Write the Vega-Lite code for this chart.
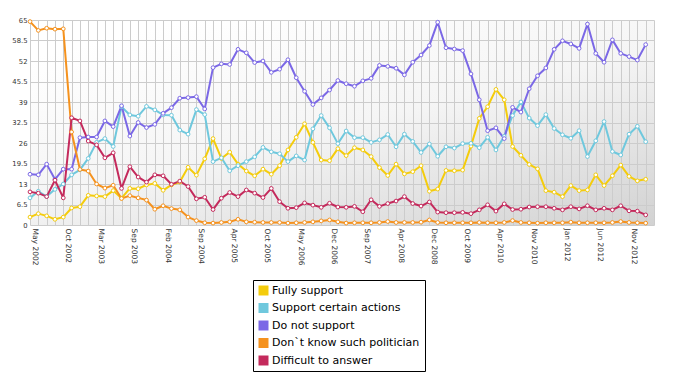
{
"$schema":"https://vega.github.io/schema/vega-lite/v6.json",
"width":624,"height":205,
"autosize":{"type":"none"},
"padding":{"left":30,"top":20,"right":26,"bottom":158},
"background":"white",
"view":{"stroke":null,"fill":{"gradient":"linear","x1":0.25,"y1":0,"x2":1,"y2":1,"stops":[{"offset":0,"color":"#ffffff"},{"offset":0.45,"color":"#f5f5f5"},{"offset":1,"color":"#d2d2d2"}]}},
"data":{"values":[
{"i":0,"s":"a","v":2.5},{"i":1,"s":"a","v":3.6},{"i":2,"s":"a","v":2.9},{"i":3,"s":"a","v":1.8},{"i":4,"s":"a","v":2.5},{"i":5,"s":"a","v":5.4},{"i":6,"s":"a","v":5.8},{"i":7,"s":"a","v":9.4},{"i":8,"s":"a","v":9.2},{"i":9,"s":"a","v":9.0},
{"i":10,"s":"a","v":10.9},{"i":11,"s":"a","v":8.5},{"i":12,"s":"a","v":11.6},{"i":13,"s":"a","v":11.5},{"i":14,"s":"a","v":12.7},{"i":15,"s":"a","v":13.2},{"i":16,"s":"a","v":11.0},{"i":17,"s":"a","v":12.7},{"i":18,"s":"a","v":13.6},{"i":19,"s":"a","v":18.3},
{"i":20,"s":"a","v":15.8},{"i":21,"s":"a","v":21.0},{"i":22,"s":"a","v":27.4},{"i":23,"s":"a","v":21.1},{"i":24,"s":"a","v":23.1},{"i":25,"s":"a","v":19.3},{"i":26,"s":"a","v":17.1},{"i":27,"s":"a","v":15.6},{"i":28,"s":"a","v":17.7},{"i":29,"s":"a","v":16.1},
{"i":30,"s":"a","v":18.8},{"i":31,"s":"a","v":23.8},{"i":32,"s":"a","v":27.8},{"i":33,"s":"a","v":32.1},{"i":34,"s":"a","v":26.2},{"i":35,"s":"a","v":20.6},{"i":36,"s":"a","v":20.4},{"i":37,"s":"a","v":24.2},{"i":38,"s":"a","v":22.0},{"i":39,"s":"a","v":24.5},
{"i":40,"s":"a","v":23.8},{"i":41,"s":"a","v":21.7},{"i":42,"s":"a","v":18.2},{"i":43,"s":"a","v":15.7},{"i":44,"s":"a","v":19.3},{"i":45,"s":"a","v":16.2},{"i":46,"s":"a","v":16.9},{"i":47,"s":"a","v":18.8},{"i":48,"s":"a","v":10.7},{"i":49,"s":"a","v":11.4},
{"i":50,"s":"a","v":17.3},{"i":51,"s":"a","v":17.2},{"i":52,"s":"a","v":17.4},{"i":53,"s":"a","v":25.0},{"i":54,"s":"a","v":33.8},{"i":55,"s":"a","v":37.5},{"i":56,"s":"a","v":43.0},{"i":57,"s":"a","v":39.7},{"i":58,"s":"a","v":24.9},{"i":59,"s":"a","v":22.1},
{"i":60,"s":"a","v":19.2},{"i":61,"s":"a","v":17.8},{"i":62,"s":"a","v":10.9},{"i":63,"s":"a","v":10.4},{"i":64,"s":"a","v":9.0},{"i":65,"s":"a","v":12.5},{"i":66,"s":"a","v":10.9},{"i":67,"s":"a","v":11.1},{"i":68,"s":"a","v":15.9},{"i":69,"s":"a","v":12.5},
{"i":70,"s":"a","v":15.6},{"i":71,"s":"a","v":19.0},{"i":72,"s":"a","v":15.4},{"i":73,"s":"a","v":14.0},{"i":74,"s":"a","v":14.5},
{"i":0,"s":"b","v":8.6},{"i":1,"s":"b","v":10.7},{"i":2,"s":"b","v":9.0},{"i":3,"s":"b","v":11.3},{"i":4,"s":"b","v":13.0},{"i":5,"s":"b","v":15.9},{"i":6,"s":"b","v":17.5},{"i":7,"s":"b","v":21.1},{"i":8,"s":"b","v":26.2},{"i":9,"s":"b","v":27.4},
{"i":10,"s":"b","v":24.9},{"i":11,"s":"b","v":37.5},{"i":12,"s":"b","v":34.9},{"i":13,"s":"b","v":34.5},{"i":14,"s":"b","v":37.6},{"i":15,"s":"b","v":36.5},{"i":16,"s":"b","v":34.9},{"i":17,"s":"b","v":34.8},{"i":18,"s":"b","v":30.1},{"i":19,"s":"b","v":28.8},
{"i":20,"s":"b","v":36.6},{"i":21,"s":"b","v":35.0},{"i":22,"s":"b","v":20.1},{"i":23,"s":"b","v":21.3},{"i":24,"s":"b","v":17.2},{"i":25,"s":"b","v":18.8},{"i":26,"s":"b","v":20.1},{"i":27,"s":"b","v":21.6},{"i":28,"s":"b","v":24.6},{"i":29,"s":"b","v":23.2},
{"i":30,"s":"b","v":22.6},{"i":31,"s":"b","v":20.1},{"i":32,"s":"b","v":21.9},{"i":33,"s":"b","v":20.6},{"i":34,"s":"b","v":30.5},{"i":35,"s":"b","v":34.7},{"i":36,"s":"b","v":30.8},{"i":37,"s":"b","v":25.8},{"i":38,"s":"b","v":29.8},{"i":39,"s":"b","v":27.7},
{"i":40,"s":"b","v":27.7},{"i":41,"s":"b","v":26.2},{"i":42,"s":"b","v":27.0},{"i":43,"s":"b","v":28.7},{"i":44,"s":"b","v":24.8},{"i":45,"s":"b","v":28.8},{"i":46,"s":"b","v":26.5},{"i":47,"s":"b","v":23.0},{"i":48,"s":"b","v":25.7},{"i":49,"s":"b","v":21.8},
{"i":50,"s":"b","v":24.8},{"i":51,"s":"b","v":24.4},{"i":52,"s":"b","v":25.8},{"i":53,"s":"b","v":25.9},{"i":54,"s":"b","v":24.5},{"i":55,"s":"b","v":27.8},{"i":56,"s":"b","v":23.8},{"i":57,"s":"b","v":28.1},{"i":58,"s":"b","v":34.7},{"i":59,"s":"b","v":39.0},
{"i":60,"s":"b","v":33.9},{"i":61,"s":"b","v":31.5},{"i":62,"s":"b","v":35.0},{"i":63,"s":"b","v":30.6},{"i":64,"s":"b","v":28.6},{"i":65,"s":"b","v":27.5},{"i":66,"s":"b","v":29.9},{"i":67,"s":"b","v":21.7},{"i":68,"s":"b","v":26.7},{"i":69,"s":"b","v":32.8},
{"i":70,"s":"b","v":23.3},{"i":71,"s":"b","v":22.2},{"i":72,"s":"b","v":28.8},{"i":73,"s":"b","v":31.3},{"i":74,"s":"b","v":26.4},
{"i":0,"s":"c","v":16.1},{"i":1,"s":"c","v":15.9},{"i":2,"s":"c","v":19.3},{"i":3,"s":"c","v":14.5},{"i":4,"s":"c","v":17.7},{"i":5,"s":"c","v":17.7},{"i":6,"s":"c","v":27.7},{"i":7,"s":"c","v":27.9},{"i":8,"s":"c","v":27.9},{"i":9,"s":"c","v":33.0},
{"i":10,"s":"c","v":31.2},{"i":11,"s":"c","v":37.8},{"i":12,"s":"c","v":28.2},{"i":13,"s":"c","v":32.5},{"i":14,"s":"c","v":30.9},{"i":15,"s":"c","v":31.9},{"i":16,"s":"c","v":35.4},{"i":17,"s":"c","v":37.2},{"i":18,"s":"c","v":40.2},{"i":19,"s":"c","v":40.4},
{"i":20,"s":"c","v":40.7},{"i":21,"s":"c","v":36.8},{"i":22,"s":"c","v":49.9},{"i":23,"s":"c","v":51.1},{"i":24,"s":"c","v":50.9},{"i":25,"s":"c","v":55.7},{"i":26,"s":"c","v":54.6},{"i":27,"s":"c","v":51.5},{"i":28,"s":"c","v":52.0},{"i":29,"s":"c","v":48.4},
{"i":30,"s":"c","v":49.4},{"i":31,"s":"c","v":52.4},{"i":32,"s":"c","v":46.7},{"i":33,"s":"c","v":42.4},{"i":34,"s":"c","v":38.2},{"i":35,"s":"c","v":40.3},{"i":36,"s":"c","v":42.8},{"i":37,"s":"c","v":45.8},{"i":38,"s":"c","v":44.8},{"i":39,"s":"c","v":44.0},
{"i":40,"s":"c","v":45.7},{"i":41,"s":"c","v":46.5},{"i":42,"s":"c","v":50.6},{"i":43,"s":"c","v":50.3},{"i":44,"s":"c","v":49.7},{"i":45,"s":"c","v":47.6},{"i":46,"s":"c","v":51.6},{"i":47,"s":"c","v":53.9},{"i":48,"s":"c","v":56.9},{"i":49,"s":"c","v":64.3},
{"i":50,"s":"c","v":56.2},{"i":51,"s":"c","v":55.8},{"i":52,"s":"c","v":55.3},{"i":53,"s":"c","v":47.9},{"i":54,"s":"c","v":39.7},{"i":55,"s":"c","v":29.9},{"i":56,"s":"c","v":30.8},{"i":57,"s":"c","v":27.4},{"i":58,"s":"c","v":37.3},{"i":59,"s":"c","v":35.8},
{"i":60,"s":"c","v":43.2},{"i":61,"s":"c","v":47.3},{"i":62,"s":"c","v":49.8},{"i":63,"s":"c","v":55.7},{"i":64,"s":"c","v":58.4},{"i":65,"s":"c","v":57.4},{"i":66,"s":"c","v":56.0},{"i":67,"s":"c","v":63.7},{"i":68,"s":"c","v":54.4},{"i":69,"s":"c","v":51.6},
{"i":70,"s":"c","v":58.7},{"i":71,"s":"c","v":54.4},{"i":72,"s":"c","v":53.4},{"i":73,"s":"c","v":52.3},{"i":74,"s":"c","v":57.2},
{"i":0,"s":"d","v":64.5},{"i":1,"s":"d","v":61.7},{"i":2,"s":"d","v":62.4},{"i":3,"s":"d","v":62.1},{"i":4,"s":"d","v":62.2},{"i":5,"s":"d","v":29.5},{"i":6,"s":"d","v":17.6},{"i":7,"s":"d","v":17.1},{"i":8,"s":"d","v":13.0},{"i":9,"s":"d","v":11.7},
{"i":10,"s":"d","v":12.6},{"i":11,"s":"d","v":8.4},{"i":12,"s":"d","v":9.3},{"i":13,"s":"d","v":8.6},{"i":14,"s":"d","v":7.9},{"i":15,"s":"d","v":5.0},{"i":16,"s":"d","v":6.1},{"i":17,"s":"d","v":5.2},{"i":18,"s":"d","v":4.8},{"i":19,"s":"d","v":2.5},
{"i":20,"s":"d","v":1.4},{"i":21,"s":"d","v":0.7},{"i":22,"s":"d","v":0.6},{"i":23,"s":"d","v":0.8},{"i":24,"s":"d","v":1.0},{"i":25,"s":"d","v":1.8},{"i":26,"s":"d","v":1.0},{"i":27,"s":"d","v":0.9},{"i":28,"s":"d","v":0.8},{"i":29,"s":"d","v":0.8},
{"i":30,"s":"d","v":0.8},{"i":31,"s":"d","v":0.6},{"i":32,"s":"d","v":0.7},{"i":33,"s":"d","v":0.8},{"i":34,"s":"d","v":1.0},{"i":35,"s":"d","v":1.3},{"i":36,"s":"d","v":1.6},{"i":37,"s":"d","v":1.0},{"i":38,"s":"d","v":0.6},{"i":39,"s":"d","v":0.7},
{"i":40,"s":"d","v":0.7},{"i":41,"s":"d","v":0.7},{"i":42,"s":"d","v":0.8},{"i":43,"s":"d","v":1.1},{"i":44,"s":"d","v":0.8},{"i":45,"s":"d","v":0.8},{"i":46,"s":"d","v":0.8},{"i":47,"s":"d","v":0.9},{"i":48,"s":"d","v":1.6},{"i":49,"s":"d","v":0.8},
{"i":50,"s":"d","v":0.7},{"i":51,"s":"d","v":0.7},{"i":52,"s":"d","v":0.7},{"i":53,"s":"d","v":0.7},{"i":54,"s":"d","v":0.8},{"i":55,"s":"d","v":0.7},{"i":56,"s":"d","v":0.7},{"i":57,"s":"d","v":0.8},{"i":58,"s":"d","v":1.4},{"i":59,"s":"d","v":0.8},
{"i":60,"s":"d","v":0.7},{"i":61,"s":"d","v":0.6},{"i":62,"s":"d","v":0.7},{"i":63,"s":"d","v":0.7},{"i":64,"s":"d","v":0.7},{"i":65,"s":"d","v":0.9},{"i":66,"s":"d","v":0.7},{"i":67,"s":"d","v":0.7},{"i":68,"s":"d","v":0.7},{"i":69,"s":"d","v":0.7},
{"i":70,"s":"d","v":0.8},{"i":71,"s":"d","v":1.1},{"i":72,"s":"d","v":0.8},{"i":73,"s":"d","v":0.7},{"i":74,"s":"d","v":0.6},
{"i":0,"s":"e","v":10.5},{"i":1,"s":"e","v":10.1},{"i":2,"s":"e","v":9.0},{"i":3,"s":"e","v":14.2},{"i":4,"s":"e","v":8.6},{"i":5,"s":"e","v":34.0},{"i":6,"s":"e","v":33.0},{"i":7,"s":"e","v":26.6},{"i":8,"s":"e","v":25.4},{"i":9,"s":"e","v":21.3},
{"i":10,"s":"e","v":22.9},{"i":11,"s":"e","v":11.6},{"i":12,"s":"e","v":18.5},{"i":13,"s":"e","v":15.2},{"i":14,"s":"e","v":13.6},{"i":15,"s":"e","v":15.9},{"i":16,"s":"e","v":15.6},{"i":17,"s":"e","v":12.9},{"i":18,"s":"e","v":13.9},{"i":19,"s":"e","v":12.2},
{"i":20,"s":"e","v":8.3},{"i":21,"s":"e","v":8.8},{"i":22,"s":"e","v":4.9},{"i":23,"s":"e","v":8.5},{"i":24,"s":"e","v":10.3},{"i":25,"s":"e","v":9.0},{"i":26,"s":"e","v":11.1},{"i":27,"s":"e","v":10.1},{"i":28,"s":"e","v":8.7},{"i":29,"s":"e","v":11.6},
{"i":30,"s":"e","v":7.4},{"i":31,"s":"e","v":5.3},{"i":32,"s":"e","v":5.5},{"i":33,"s":"e","v":7.0},{"i":34,"s":"e","v":6.3},{"i":35,"s":"e","v":5.6},{"i":36,"s":"e","v":6.9},{"i":37,"s":"e","v":5.7},{"i":38,"s":"e","v":5.6},{"i":39,"s":"e","v":5.9},
{"i":40,"s":"e","v":4.2},{"i":41,"s":"e","v":8.0},{"i":42,"s":"e","v":5.9},{"i":43,"s":"e","v":6.8},{"i":44,"s":"e","v":7.6},{"i":45,"s":"e","v":9.0},{"i":46,"s":"e","v":6.8},{"i":47,"s":"e","v":6.0},{"i":48,"s":"e","v":7.3},{"i":49,"s":"e","v":4.1},
{"i":50,"s":"e","v":3.9},{"i":51,"s":"e","v":3.9},{"i":52,"s":"e","v":4.0},{"i":53,"s":"e","v":3.6},{"i":54,"s":"e","v":4.8},{"i":55,"s":"e","v":6.4},{"i":56,"s":"e","v":4.4},{"i":57,"s":"e","v":6.7},{"i":58,"s":"e","v":4.9},{"i":59,"s":"e","v":5.0},
{"i":60,"s":"e","v":5.7},{"i":61,"s":"e","v":5.8},{"i":62,"s":"e","v":5.8},{"i":63,"s":"e","v":5.3},{"i":64,"s":"e","v":4.8},{"i":65,"s":"e","v":5.8},{"i":66,"s":"e","v":5.1},{"i":67,"s":"e","v":6.1},{"i":68,"s":"e","v":4.8},{"i":69,"s":"e","v":5.3},
{"i":70,"s":"e","v":4.8},{"i":71,"s":"e","v":6.1},{"i":72,"s":"e","v":4.5},{"i":73,"s":"e","v":4.4},{"i":74,"s":"e","v":3.2}
]},
"encoding":{
"x":{"field":"i","type":"quantitative","scale":{"domain":[0,75],"nice":false,"zero":false},
"axis":{"title":null,"values":[0,1,2,3,4,5,6,7,8,9,10,11,12,13,14,15,16,17,18,19,20,21,22,23,24,25,26,27,28,29,30,31,32,33,34,35,36,37,38,39,40,41,42,43,44,45,46,47,48,49,50,51,52,53,54,55,56,57,58,59,60,61,62,63,64,65,66,67,68,69,70,71,72,73,74,75],
"labelExpr":"(datum.value % 4 == 0 && datum.value <= 72) ? ['May 2002','Oct 2002','Mar 2003','Sep 2003','Feb 2004','Sep 2004','Apr 2005','Oct 2005','May 2006','Dec 2006','Sep 2007','Apr 2008','Dec 2008','Oct 2009','Apr 2010','Nov 2010','Jan 2012','Jun 2012','Nov 2012'][datum.value/4] : ''",
"labelAngle":90,"labelAlign":"left","labelBaseline":"middle","labelOffset":4,"labelPadding":3,"ticks":false,"domain":false,"grid":true,"gridColor":"#cccccc","gridWidth":1,
"labelFlush":false,"labelOverlap":false,"labelBound":false,"labelFont":"DejaVu Sans","labelFontSize":7.5,"labelColor":"#333333"}},
"y":{"field":"v","type":"quantitative","scale":{"domain":[0,65],"nice":false},
"axis":{"title":null,"values":[0,6.5,13,19.5,26,32.5,39,45.5,52,58.5,65],"labelExpr":"'' + datum.value","ticks":false,"domain":false,"grid":true,"gridColor":"#cccccc","gridWidth":1,
"labelPadding":3,"labelFlush":false,"labelOverlap":false,"labelFont":"DejaVu Sans","labelFontSize":6.8,"labelColor":"#333333"}},
"color":{"field":"s","type":"nominal","scale":{"domain":["a","b","c","d","e"],"range":["#f4cc0c","#6fc8dd","#7b68e6","#f5921e","#c42a5c"]},"legend":null}
},
"layer":[
{"mark":{"type":"line","strokeWidth":2,"strokeJoin":"round"},
 "encoding":{"color":{"field":"s","type":"nominal","scale":{"domain":["a","b","c","d","e"],"range":["#f4cc0c","#6fc8dd","#7b68e6","#f5921e","#c42a5c"]},
 "legend":{"orient":"none","legendX":223,"legendY":260,"direction":"vertical","title":null,"fillColor":"white","strokeColor":"#000000","padding":5,
 "symbolType":"square","symbolSize":100,"symbolStrokeWidth":0,"rowPadding":5.5,"labelOffset":3,
 "labelFont":"DejaVu Sans","labelFontSize":11,"labelColor":"#000000","labelLimit":300,
 "labelExpr":"datum.label=='a'?'Fully support':datum.label=='b'?'Support certain actions':datum.label=='c'?'Do not support':datum.label=='d'?'Don`t know such politician':'Difficult to answer'",
 "encode":{"symbols":{"update":{"fill":{"scale":"color","field":"value"},"fillOpacity":{"value":1},"strokeWidth":{"value":0}}}}}}}},
{"mark":{"type":"point","filled":false,"size":14,"strokeWidth":1,"opacity":1},
 "encoding":{"fill":{"value":"white"}}}
]
}
